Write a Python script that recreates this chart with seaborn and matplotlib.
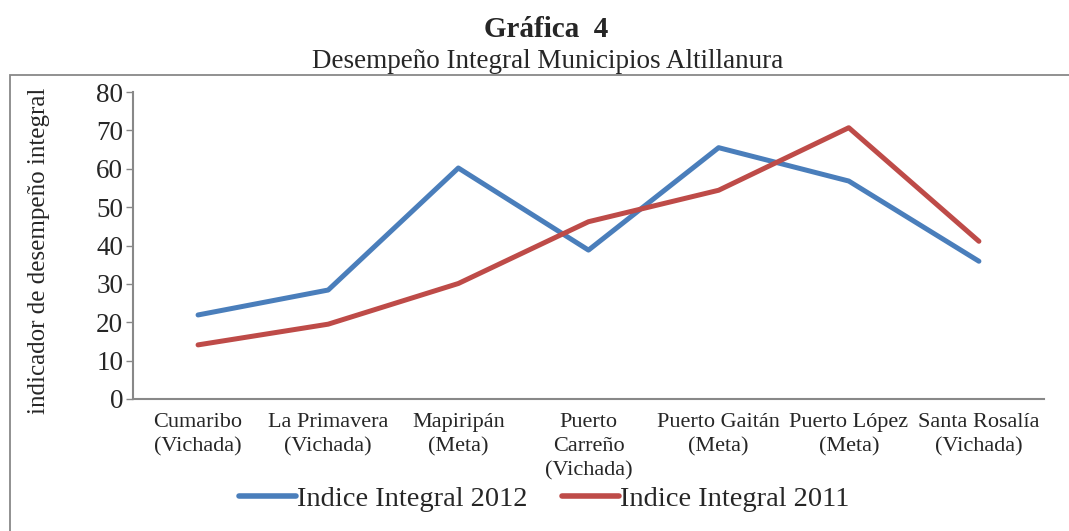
import matplotlib
matplotlib.use("Agg")
import matplotlib.pyplot as plt
import seaborn as sns
import pandas as pd
from matplotlib.patches import Rectangle
from matplotlib.lines import Line2D

categories = [
    "Cumaribo\n(Vichada)",
    "La Primavera\n(Vichada)",
    "Mapiripán\n(Meta)",
    "Puerto\nCarreño\n(Vichada)",
    "Puerto Gaitán\n(Meta)",
    "Puerto López\n(Meta)",
    "Santa Rosalía\n(Vichada)",
]
indice_2012 = [21.9, 28.4, 60.2, 38.8, 65.5, 56.8, 35.9]
indice_2011 = [14.1, 19.5, 30.1, 46.2, 54.4, 70.7, 41.1]
series_names = ["Indice Integral 2012", "Indice Integral 2011"]
y_ticks = [0, 10, 20, 30, 40, 50, 60, 70, 80]

df = pd.DataFrame({
    "cat": categories * 2,
    "x": list(range(len(categories))) * 2,
    "value": indice_2012 + indice_2011,
    "serie": [series_names[0]] * len(categories) + [series_names[1]] * len(categories),
})

sns.set_theme(style="white")
plt.rcParams["font.family"] = ["Liberation Serif", "DejaVu Serif"]

fig = plt.figure(figsize=(10.69, 5.31), dpi=100)
ax = fig.add_axes([0.1244, 0.2486, 0.8522, 0.5781])

palette = {series_names[0]: "#4A7EBB", series_names[1]: "#BE4B48"}
sns.lineplot(data=df, x="x", y="value", hue="serie", palette=palette, ax=ax,
             linewidth=3.6, solid_capstyle="round", legend=False)

ax.set_xlim(-0.5, len(categories) - 0.5)
ax.set_ylim(0, 80)
ax.set_yticks(y_ticks)
ax.set_yticklabels([str(t) for t in y_ticks], fontsize=19.5)
ax.set_xticks(range(len(categories)))
ax.set_xticklabels(categories, fontsize=16, linespacing=1.35)
ax.tick_params(axis="x", length=0, pad=10)
ax.tick_params(axis="y", length=5, width=1, color="#888888", pad=2, left=True)
ax.set_xlabel("")
ax.set_ylabel("indicador de desempeño integral", fontsize=18)
ax.yaxis.set_label_coords(-0.091, 0.482)
for s in ["top", "right"]:
    ax.spines[s].set_visible(False)
for s in ["left", "bottom"]:
    ax.spines[s].set_color("#888888")
    ax.spines[s].set_linewidth(1.5)

handles = [Line2D([0], [0], color=palette[n], lw=4, solid_capstyle="round") for n in series_names]
fig.legend(handles, series_names, loc="center", bbox_to_anchor=(0.509, 0.06), ncol=2,
           frameon=False, fontsize=20.5, handlelength=2.0, handletextpad=0.05,
           columnspacing=1.2, borderpad=0)

fig.patches.append(Rectangle((10 / 1069, -0.05), 1.2, 0.05 + 1 - 75 / 531,
                             transform=fig.transFigure, fill=False,
                             edgecolor="#888888", linewidth=1.3))

fig.text(0.511, 0.945, "Gráfica  4", ha="center", va="center", fontsize=21, fontweight="bold")
fig.text(0.512, 0.884, "Desempeño Integral Municipios Altillanura", ha="center", va="center",
         fontsize=19.5)

fig.savefig("out.png", dpi=100)
